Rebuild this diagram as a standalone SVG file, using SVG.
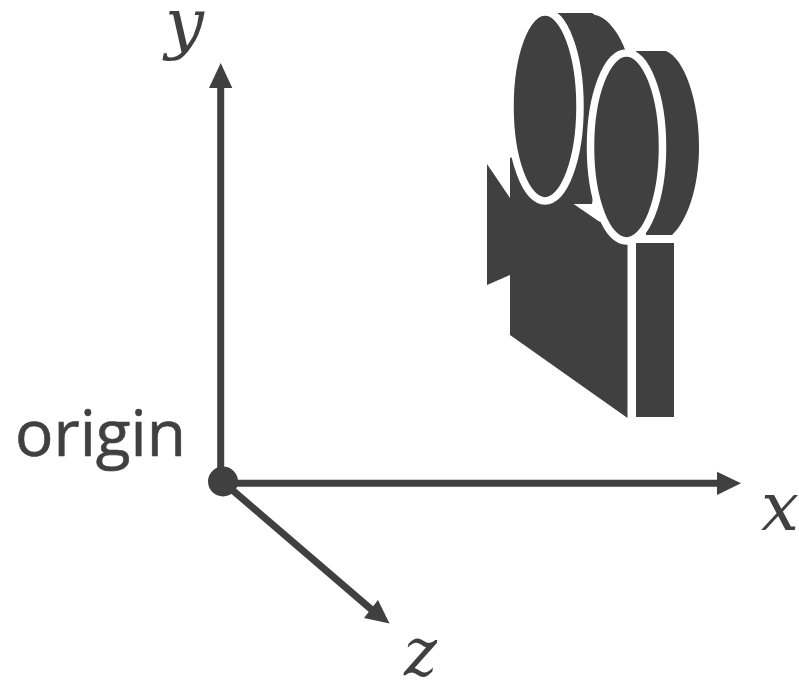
<svg xmlns="http://www.w3.org/2000/svg" width="799" height="684" viewBox="0 0 799 684">
<style>
.d{fill:#404040}
.r{fill:#404040;stroke:#fff;stroke-width:7.5}
.a{stroke:#404040;stroke-width:7;fill:none}
.m{font-family:"DejaVu Serif",serif;font-style:italic;font-size:68px;fill:#404040}
.t{font-family:"Open Sans",sans-serif;font-size:64px;fill:#404040;stroke:#404040;stroke-width:.6}
</style>
<rect width="799" height="684" fill="#fff"/>
<g id="connectors">
<line class="a" x1="220.7" y1="482" x2="220.7" y2="85"/>
<polygon class="d" points="220.7,63 232.3,88 209,88"/>
<line class="a" x1="223" y1="483.3" x2="719" y2="483.3"/>
<polygon class="d" points="741,483.3 717,495 717,471.7"/>
<line class="a" x1="223" y1="482" x2="372" y2="610"/>
<polygon class="d" points="389.5,623.5 364,618 378,600"/>
</g>
<g id="origin"><circle class="d" cx="223" cy="481.5" r="15"/><text class="t" x="15" y="456">origin</text></g>
<g id="label-y"><text class="m" x="165" y="46" textLength="39" lengthAdjust="spacingAndGlyphs">y</text></g>
<g id="label-x"><text class="m" x="761" y="530" textLength="38" lengthAdjust="spacingAndGlyphs">x</text></g>
<g id="label-z"><text class="m" x="404" y="675" textLength="33" lengthAdjust="spacingAndGlyphs">z</text></g>
<g id="camera">
<polygon class="d" points="487,164 510,198 510,275 487,285"/>
<polygon class="d" points="510,335 627.5,418 627.5,235 597,220 540,181 530,150 510,158"/>
<rect class="d" x="636" y="243" width="38" height="174"/>
<path class="d" d="M557,13H592L595,15C608,17 620,35 626,52L600,150L592,204H555Z"/>
<polygon fill="#fff" points="576,204 592,204 600,222"/>
<ellipse class="r" cx="545" cy="106.5" rx="35" ry="94.5"/>
<path class="d" d="M636,51H666C684,58 699,100 699,147C699,190 686,222 672,235H646Z"/>
<ellipse class="r" cx="626.5" cy="147" rx="36" ry="94"/>
</g>
</svg>
